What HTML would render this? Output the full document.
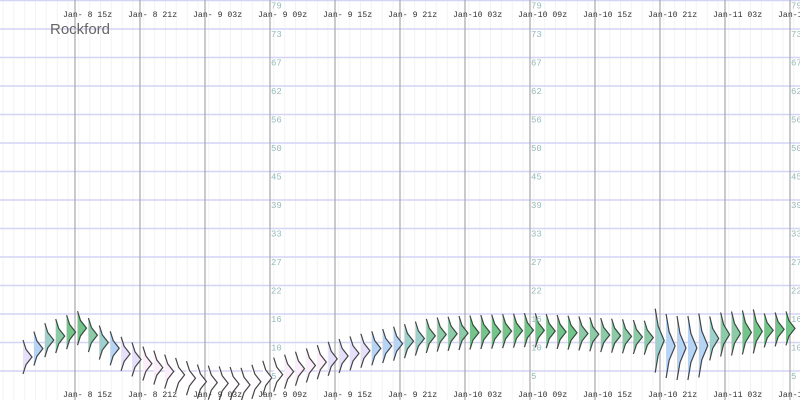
<!DOCTYPE html>
<html><head><meta charset="utf-8"><style>
html,body{margin:0;padding:0;background:#fff}
svg{display:block}
</style></head><body>
<svg id="s" width="800" height="400" xmlns="http://www.w3.org/2000/svg" font-family="Liberation Mono, monospace">
<rect width="800" height="400" fill="#fff"/>
<g id="faint"></g>
<g id="grid"></g>
<g id="vl"></g>
<g id="vio"></g>
<g id="lab"></g>
<text x="50" y="34" font-family="Liberation Sans, sans-serif" font-size="15" fill="#666">Rockford</text>
</svg>
<script>
const NS="http://www.w3.org/2000/svg";
function el(p,t,a,txt){const e=document.createElementNS(NS,t);for(const k in a)e.setAttribute(k,a[k]);if(txt)e.textContent=txt;document.getElementById(p).appendChild(e);return e;}
for(let x=3;x<800;x+=65/6){el('faint','line',{x1:x.toFixed(1),x2:x.toFixed(1),y1:0,y2:400,stroke:'#f3f3f3','stroke-width':1});}
const vals=[79,73,67,62,56,50,45,39,33,27,22,16,10,5];
vals.forEach((v,i)=>{const y=0.5+28.5*i;el('grid','line',{x1:0,x2:800,y1:y,y2:y,stroke:'#d4d4f6','stroke-width':1.5});
 [270,530,790].forEach(x=>el('lab','text',{x:x+1,y:y+8,'font-size':9,fill:'#9bb'},String(v)));});
const labs=["Jan- 8 15z","Jan- 8 21z","Jan- 9 03z","Jan- 9 09z","Jan- 9 15z","Jan- 9 21z","Jan-10 03z","Jan-10 09z","Jan-10 15z","Jan-10 21z","Jan-11 03z","Jan-11 09z"];
labs.forEach((t,i)=>{const x=75+65*i;el('vl','line',{x1:x,x2:x,y1:0,y2:400,stroke:'#a8a8a8','stroke-width':1.2});
 el('lab','text',{x:x-12,y:17,'font-size':8.2,fill:'#333'},t);el('lab','text',{x:x-12,y:397,'font-size':8.2,fill:'#333'},t);});
const cp=[[23,357],[45,340],[78,328],[100,343],[133,360],[166,372],[199,382],[243,385],[265,377],[298,368],[331,358],[364,350],[397,343],[430,335],[460,333],[530,330],[600,335],[650,338],[670,348],[695,348],[715,335],[790,328]];
function cy(x){for(let i=0;i<cp.length-1;i++){if(x<=cp[i+1][0]){const t=(x-cp[i][0])/(cp[i+1][0]-cp[i][0]);return cp[i][1]+t*(cp[i+1][1]-cp[i][1]);}}return cp[cp.length-1][1];}
function col(c){if(c<=333)return'#74c48c';if(c<=338)return'#8ccaa8';if(c<=343)return'#9fd0cc';if(c<=350)return'#b8d4f5';if(c<=360)return'#e6e0fb';if(c<=372)return'#fbeefa';return'#fefcfe';}
for(let i=0;i<71;i++){const x=23+10.9*i;if(x>795)break;const c=cy(x);let h=17;if(x>650&&x<705)h=32;else if(x>705&&x<760)h=22;
 const top=c-h,bot=c+h,w=9;
 const d=`M${x},${top} L${x+3},${c-h*0.45} L${x+w},${c} L${x+3},${c+h*0.45} L${x},${bot}`;
 el('vio','path',{d:d+' Z',fill:col(c),stroke:'none'});
 el('vio','path',{d:d,fill:'none',stroke:'#444','stroke-width':1.2});}
</script>
</body></html>
